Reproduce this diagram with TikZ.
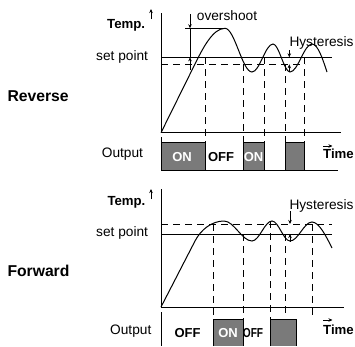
\documentclass[tikz,border=0pt]{standalone}
\usepackage{fontspec}
\setmainfont{Liberation Sans}
\usetikzlibrary{arrows.meta}
\definecolor{boxgray}{RGB}{122,122,122}
\begin{document}
\begin{tikzpicture}[x=1pt,y=-1pt,
  ln/.style={line width=0.9pt},
  dsh/.style={line width=0.9pt, dash pattern=on 7pt off 5pt},
  curve/.style={line width=1pt},
  boxfill/.style={fill=boxgray},
  boxline/.style={draw=black, line width=0.8pt},
  lbl/.style={inner sep=0, anchor=base west, font=\fontsize{13.7}{15}\selectfont},
  blbl/.style={inner sep=0, anchor=base west, font=\fontsize{13.2}{15}\selectfont\bfseries},
  side/.style={inner sep=0, anchor=base west, font=\fontsize{15.7}{18}\selectfont\bfseries},
  onlbl/.style={inner sep=0, anchor=base, text=white, font=\fontsize{13}{15}\selectfont\bfseries},
  offlbl/.style={inner sep=0, anchor=base, font=\fontsize{13}{15}\selectfont\bfseries},
  tip/.style={-{Stealth[length=4pt,width=3.5pt]}, line width=0.8pt},
]
\useasboundingbox (0,0) rectangle (355,346);

% ================= Reverse (top) =================
\coordinate (rO) at (161,132.7);
\coordinate (rTop) at (161,13);
\coordinate (rXend) at (341,132.7);
% output boxes
\fill[boxfill] (161,142.7) rectangle (205,170);
\fill[boxfill] (243,142.7) rectangle (264,170);
\fill[boxfill] (285,142.7) rectangle (304,170);
\draw[boxline] (161,142.7) rectangle (205,170);
\draw[boxline] (243,142.7) rectangle (264,170);
\draw[boxline] (285,142.7) rectangle (304,170);
% axes
\draw[ln] (rTop) -- (rO) -- (rXend);
\draw[ln] (161,137) -- (161,170) -- (338,170);
% set point and hysteresis lines
\draw[ln] (161,57.3) -- (332,57.3);
\draw[dsh] (161,64.3) -- (305,64.3);
% vertical dashed
\draw[dsh] (205,57.3) -- (205,142.7);
\draw[dsh] (243,64.3) -- (243,142.7);
\draw[dsh] (264,57.3) -- (264,142.7);
\draw[dsh] (285,64.3) -- (285,142.7);
\draw[dsh] (304,57.3) -- (304,142.7);
% overshoot
\draw[ln] (185,28.3) -- (225,28.3);
\draw[ln] (190,28.3) -- (190,57.3);
\draw[tip] (190,14) -- (190,28.3);
\draw[tip] (190,70) -- (190,57.3);
% hysteresis arrows
\draw[tip] (289.3,50) -- (289.3,57.3);
\draw[tip] (289.3,71.5) -- (289.3,64.3);
% curve
\draw[curve] (rO) -- (195,64) .. controls (203,47.8) and (213,28.3) .. (225,28.3)
  .. controls (234.7,28.3) and (242.3,72) .. (252,72)
  .. controls (259.6,72) and (265.4,44) .. (273,44)
  .. controls (279.1,44) and (283.9,72) .. (290,72)
  .. controls (297.9,72) and (304.1,44) .. (312,44)
  .. controls (318,44) and (323,60) .. (327,72);
% labels
\node[side] (rev) at (7.3,101.7) {Reverse};
\node[blbl] (rtemp) at (107,28.3) {Temp.};
\draw[tip] (151,19) -- (151,9);
\node[lbl] (rsp) at (96,60) {set point};
\node[lbl] (rout) at (101.7,157.7) {Output};
\node[lbl] (ovs) at (196.7,20.7) {overshoot};
\node[lbl] (rhys) at (289.3,46) {Hysteresis};
\node[onlbl] (ron1) at (182,161) {ON};
\node[offlbl] (roff1) at (221,161) {OFF};
\node[onlbl] (ron2) at (253.5,161) {ON};
\node[blbl] (rtime) at (323,158.3) {Time};
\draw[tip] (323,146) -- (332.5,146);

% ================= Forward (bottom) =================
\coordinate (fO) at (161,307);
\coordinate (fTop) at (161,189);
\coordinate (fXend) at (344,307);
% output boxes
\fill[boxfill] (213.3,319.3) rectangle (243,346);
\fill[boxfill] (270,319.3) rectangle (296,346);
\draw[boxline] (213.3,346) -- (213.3,319.3) -- (243,319.3) -- (243,346);
\draw[boxline] (270,346) -- (270,319.3) -- (296,319.3) -- (296,346);
% axes
\draw[ln] (fTop) -- (fO) -- (fXend);
\draw[ln] (161,312) -- (161,346);
% lines
\draw[dsh] (161,224) -- (332,224);
\draw[ln] (161,234) -- (332,234);
% vertical dashed
\draw[dsh] (213.3,224) -- (213.3,319.3);
\draw[dsh] (243,234) -- (243,319.3);
\draw[dsh] (270,221) -- (270,319.3);
\draw[dsh] (285,234) -- (285,316);
\draw[dsh] (312,224) -- (312,319.3);
% hysteresis arrows
\draw[tip] (290,211) -- (290,224);
\draw[tip] (290,241.5) -- (290,234);
% curve
\draw[curve] (fO) -- (195,241) .. controls (201,229.4) and (212,221) .. (224,221)
  .. controls (234,221) and (242,241) .. (252,241)
  .. controls (259.2,241) and (264.8,221) .. (272,221)
  .. controls (278.5,221) and (283.5,241) .. (290,241)
  .. controls (298,241) and (304,222) .. (312,222)
  .. controls (319,222) and (326,236) .. (332,248);
% labels
\node[side] (fwd) at (7.3,276) {Forward};
\node[blbl] (ftemp) at (107.3,205) {Temp.};
\draw[tip] (151,199) -- (151,189);
\node[lbl] (fsp) at (96,236) {set point};
\node[lbl] (fout) at (110,334.3) {Output};
\node[lbl] (fhys) at (289.3,209.3) {Hysteresis};
\node[offlbl] (foff1) at (187.5,337.3) {OFF};
\node[onlbl] (fon1) at (228,337.3) {ON};
\node[offlbl, xscale=0.78] (foff2) at (253,337.3) {OFF};
\node[blbl] (ftime) at (323,334.3) {Time};
\draw[tip] (323,320) -- (332.5,320);
\end{tikzpicture}
\end{document}
